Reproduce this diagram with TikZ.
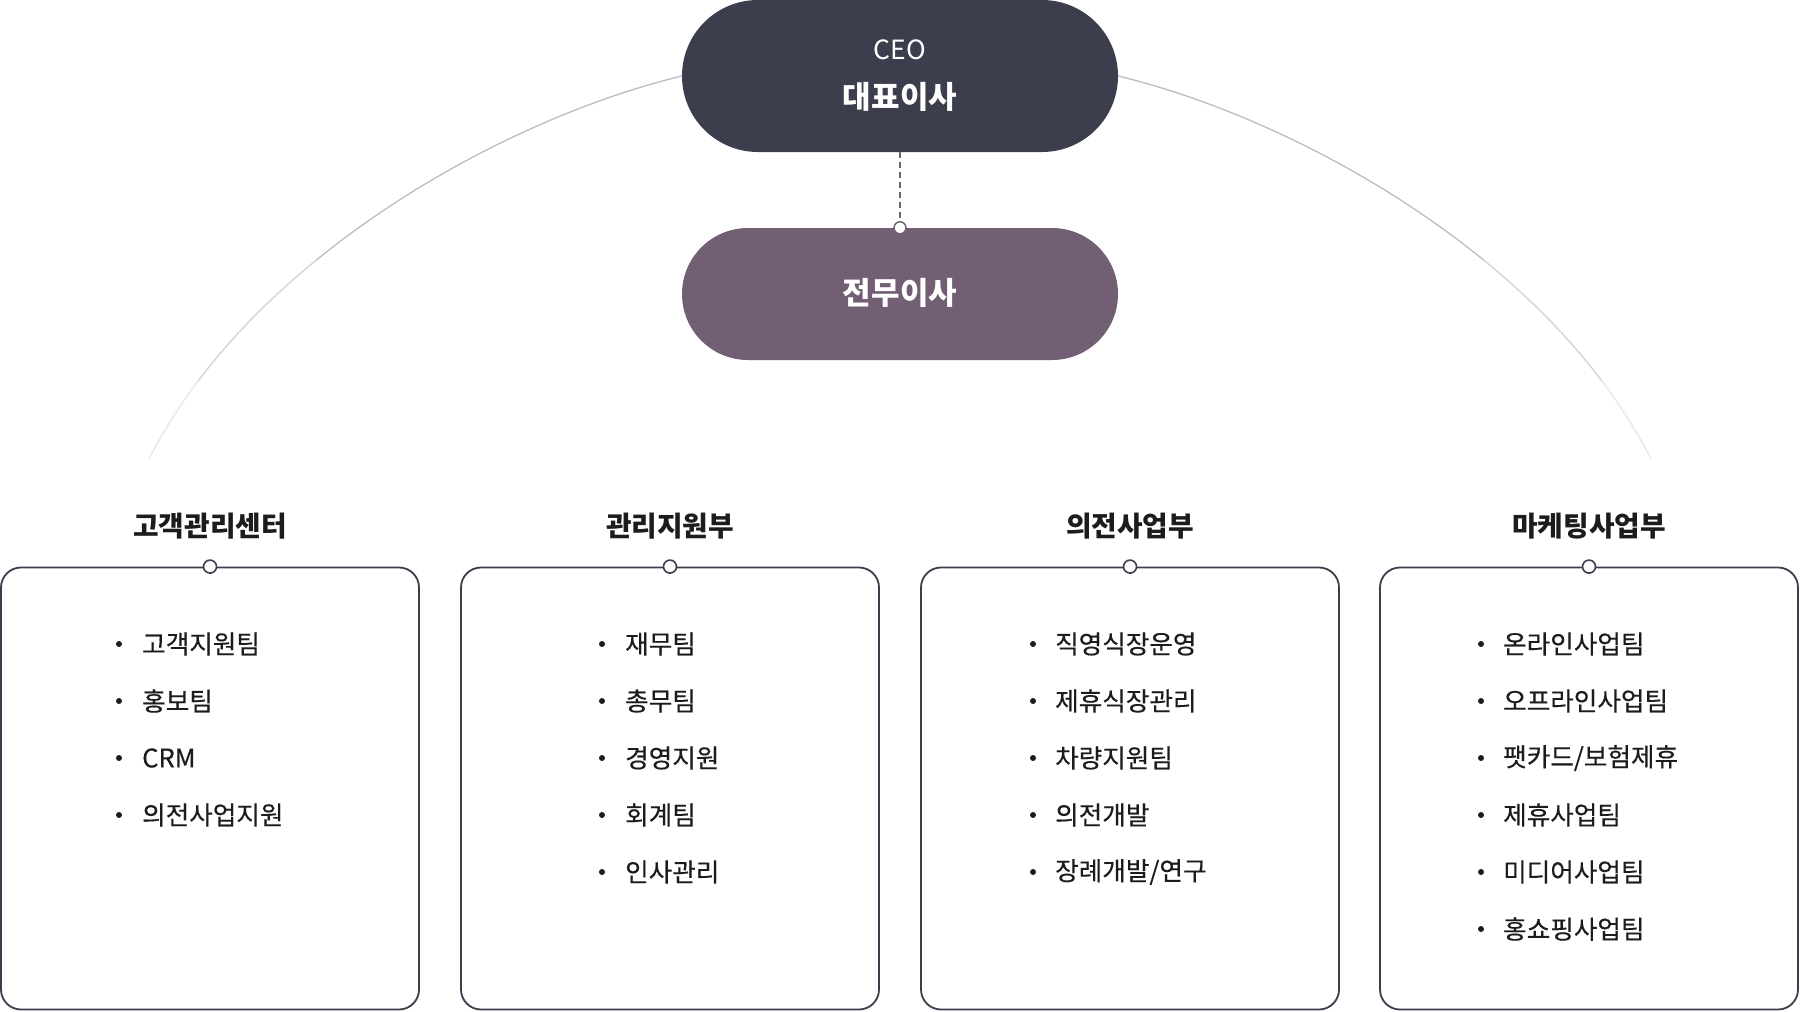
\documentclass[tikz,border=0pt]{standalone}
\usepackage{fontspec}
\setmainfont{Noto Sans CJK KR}
\newfontfamily\krmed[FakeBold=0.35]{Noto Sans CJK KR}
\definecolor{ceoc}{HTML}{3C3D4D}
\definecolor{execc}{HTML}{725F74}
\definecolor{linec}{HTML}{3C3D4D}
\definecolor{txtc}{HTML}{1C1C1E}
\definecolor{arcA}{HTML}{C4B8C8}
\definecolor{arcB}{HTML}{D6D0D8}
\definecolor{arcC}{HTML}{E9E6EA}
\definecolor{dashc}{HTML}{6E5F72}
\begin{document}
\begin{tikzpicture}[x=1pt,y=-1pt,
  pill/.style={draw=none,rectangle,rounded corners=#1,inner sep=0pt},
  deptbox/.style={draw=linec,line width=1.8pt,rectangle,rounded corners=20pt,minimum width=418pt,minimum height=442pt,inner sep=0pt},
  knob/.style={circle,draw=linec,fill=white,line width=1.6pt,minimum size=13pt,inner sep=0pt},
  execknob/.style={circle,draw=dashc,fill=white,line width=1.4pt,minimum size=12pt,inner sep=0pt},
  depttitle/.style={text=txtc,font=\fontsize{27.8}{32}\selectfont\bfseries,inner sep=0pt},
  itemtext/.style={text=txtc,font=\krmed\fontsize{25.6}{30}\selectfont,anchor=west,inner sep=0pt},
  bulletdot/.style={circle,fill=txtc,minimum size=6pt,inner sep=0pt},
  pilltext/.style={text=white,inner sep=0pt},
  arcline/.style={line width=1.3pt}
]
\useasboundingbox (0,0) rectangle (1800,1012);
\fill[white] (0,0) rectangle (1800,1012);

% pills
\node[pill=76pt,fill=ceoc,minimum width=436pt,minimum height=152pt] (ceo) at (900,76) {};
\node[pill=66pt,fill=execc,minimum width=436pt,minimum height=132pt] (exec) at (900,294) {};
\node[pilltext,font=\fontsize{26.5}{30}\selectfont] (ceoen) at (900,50) {CEO};
\node[pilltext,font=\fontsize{31}{36}\selectfont\bfseries] (ceokr) at (900,97) {대표이사};
\node[pilltext,font=\fontsize{31}{36}\selectfont\bfseries] (exectxt) at (900,293) {전무이사};

% dashed connector
\draw[dashc,line width=1.3pt,dash pattern=on 6pt off 4pt] (ceo.south) -- (exec.north);
\node[execknob] (execdot) at (exec.north) {};

% arcs
\coordinate (lend) at (149,459);
\coordinate (rend) at (1651,459);
\begin{scope}
  \clip (0,0) rectangle (1800,260);
  \draw[arcline,arcA] (ceo.west) .. controls (500,120) and (250,260) .. (lend);
  \draw[arcline,arcA] (ceo.east) .. controls (1300,120) and (1550,260) .. (rend);
\end{scope}
\begin{scope}
  \clip (0,260) rectangle (1800,380);
  \draw[arcline,arcB] (ceo.west) .. controls (500,120) and (250,260) .. (lend);
  \draw[arcline,arcB] (ceo.east) .. controls (1300,120) and (1550,260) .. (rend);
\end{scope}
\begin{scope}
  \clip (0,380) rectangle (1800,480);
  \draw[arcline,arcC] (ceo.west) .. controls (500,120) and (250,260) .. (lend);
  \draw[arcline,arcC] (ceo.east) .. controls (1300,120) and (1550,260) .. (rend);
\end{scope}

% department boxes
\node[deptbox] (b1) at (210,788.5) {};
\node[deptbox] (b2) at (670,788.5) {};
\node[deptbox] (b3) at (1130,788.5) {};
\node[deptbox] (b4) at (1589,788.5) {};
\node[knob] (k1) at (b1.north) {};
\node[knob] (k2) at (b2.north) {};
\node[knob] (k3) at (b3.north) {};
\node[knob] (k4) at (b4.north) {};

\node[depttitle] (t1) at (210,526) {고객관리센터};
\node[depttitle] (t2) at (670,526) {관리지원부};
\node[depttitle] (t3) at (1130,526) {의전사업부};
\node[depttitle] (t4) at (1589,526) {마케팅사업부};

% items
\foreach \bx/\tx/\pre/\lst in {
  119/142/a/{고객지원팀,홍보팀,CRM,의전사업지원},
  602/625/b/{재무팀,총무팀,경영지원,회계팀,인사관리},
  1033/1055/c/{직영식장운영,제휴식장관리,차량지원팀,의전개발,장례개발/연구},
  1481/1503/d/{온라인사업팀,오프라인사업팀,팻카드/보험제휴,제휴사업팀,미디어사업팀,홍쇼핑사업팀}}{
  \foreach \itm [count=\i] in \lst {
    \pgfmathsetmacro{\yy}{644+57*(\i-1)}
    \node[bulletdot] (dot\pre\i) at (\bx,\yy) {};
    \node[itemtext] (item\pre\i) at (\tx,\yy) {\itm};
  }
}
\end{tikzpicture}
\end{document}
